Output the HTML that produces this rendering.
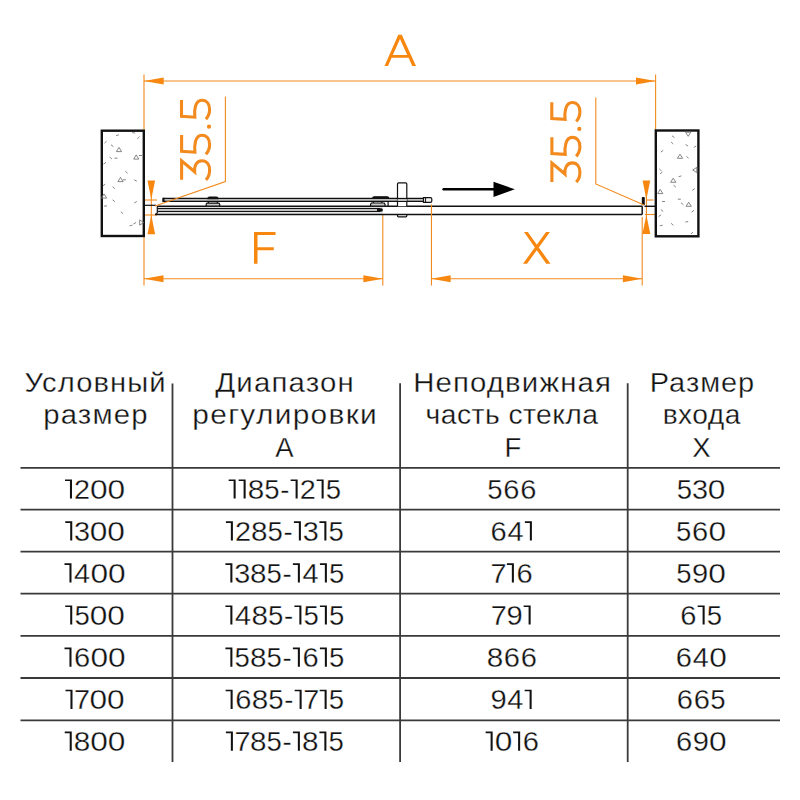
<!DOCTYPE html>
<html><head><meta charset="utf-8">
<style>
html,body{margin:0;padding:0;background:#fff;width:800px;height:800px;overflow:hidden}
svg{display:block}
.o{stroke:#F28A1E;fill:none;stroke-width:1.1}
.of{fill:#F7870F;stroke:none}
.ot{fill:#F28A1E;font-family:"Liberation Sans",sans-serif;font-size:46px}
.thin{stroke:#fff;stroke-width:0.9px}
.t{fill:#111;font-family:"Liberation Sans",sans-serif;font-size:27.5px;stroke:#fff;stroke-width:0.3px}
.one{fill:#111;stroke:none}
.k{stroke:#111;fill:none}
.h{stroke:#888;fill:none;stroke-width:0.9}
</style></head>
<body>
<svg width="800" height="800" viewBox="0 0 800 800">
<!-- ===== DIAGRAM ===== -->
<!-- dimension A -->
<line class="o" x1="144" y1="74.5" x2="144" y2="285.5"/>
<line class="o" x1="655.6" y1="74.5" x2="655.6" y2="131"/>
<line class="o" x1="144" y1="81" x2="655.6" y2="81"/>
<polygon class="of" points="144,81 163.7,77.5 163.7,84.5"/>
<polygon class="of" points="655.6,81 636,77.5 636,84.5"/>
<path class="of" fill-rule="evenodd" d="M384.5 66L398.25 34.75H401.75L416 66H412.25L408.55 57.75H391.6L388 66ZM392.85 55L400 38.9L407.2 55Z"/>
<!-- dimension F -->
<line class="o" x1="382.8" y1="214" x2="382.8" y2="285.5"/>
<line class="o" x1="144" y1="278.8" x2="382.8" y2="278.8"/>
<polygon class="of" points="144,278.8 163.5,275.3 163.5,282.3"/>
<polygon class="of" points="382.8,278.8 363.4,275.3 363.4,282.3"/>
<path class="of" d="M254 232H275.5V235H257.5V247.25H273.75V250.25H257.5V263.75H254Z"/>
<!-- dimension X -->
<line class="o" x1="642.2" y1="217" x2="642.2" y2="285.5"/>
<line class="o" x1="431.2" y1="278.8" x2="642.2" y2="278.8"/>
<polygon class="of" points="431.2,278.8 450.6,275.3 450.6,282.3"/>
<polygon class="of" points="642.2,278.8 622.9,275.3 622.9,282.3"/>
<path class="of" d="M524 232H527.75L550.5 263.75H546.25ZM546 232H550L527 263.75H523Z"/>

<!-- 35.5 left -->
<g fill="none" stroke="#F28A1E" stroke-width="3.1" stroke-linejoin="miter">
  <path d="M181.5 100V116.3L194.8 117.2C194.1 111 194.8 100.3 202 100.3C207 100.3 209.6 104.5 209.6 109.5C209.6 113.5 208.3 116.6 205.9 119.2"/>
  <path d="M181.6 135V151.3L194.9 152.2C194.2 146 194.9 135.2 202 135.2C207 135.2 209.6 139.4 209.6 144.4C209.6 148.4 208.3 151.6 205.9 154.2"/>
  <path d="M181.6 179.8V160.9L194.6 171.8C194 166.5 196.3 160.7 202 160.7C207 160.7 209.6 165 209.6 170C209.6 174.5 208.3 177.6 205.9 179.9"/>
  <circle cx="209" cy="126.7" r="2.1" fill="#F28A1E" stroke="none"/>
</g>
<!-- 35.5 right -->
<g transform="translate(370.3,2.2)" fill="none" stroke="#F28A1E" stroke-width="3.1" stroke-linejoin="miter">
  <path d="M181.5 100V116.3L194.8 117.2C194.1 111 194.8 100.3 202 100.3C207 100.3 209.6 104.5 209.6 109.5C209.6 113.5 208.3 116.6 205.9 119.2"/>
  <path d="M181.6 135V151.3L194.9 152.2C194.2 146 194.9 135.2 202 135.2C207 135.2 209.6 139.4 209.6 144.4C209.6 148.4 208.3 151.6 205.9 154.2"/>
  <path d="M181.6 179.8V160.9L194.6 171.8C194 166.5 196.3 160.7 202 160.7C207 160.7 209.6 165 209.6 170C209.6 174.5 208.3 177.6 205.9 179.9"/>
  <circle cx="209" cy="126.7" r="2.1" fill="#F28A1E" stroke="none"/>
</g>

<!-- small vertical dims left -->
<line class="o" x1="151.3" y1="181" x2="151.3" y2="234"/>
<polygon class="of" points="147.5,180.5 155.1,180.5 151.3,199.5"/>
<polygon class="of" points="147.5,234.3 155.1,234.3 151.3,215"/>
<line class="o" x1="145" y1="200" x2="157" y2="200"/>
<line class="o" x1="144" y1="215" x2="157" y2="215"/>
<!-- small vertical dims right -->
<line class="o" x1="646.4" y1="181" x2="646.4" y2="234"/>
<polygon class="of" points="642.6,180.5 650.2,180.5 646.4,199.5"/>
<polygon class="of" points="642.4,234 650.3,234 646.4,215"/>
<line class="o" x1="647" y1="200" x2="653.5" y2="200"/>
<line class="o" x1="645" y1="214.5" x2="656" y2="214.5"/>

<!-- walls -->
<rect x="101.8" y="130.7" width="42" height="105.3" fill="#fff" stroke="#111" stroke-width="2.4"/>
<rect x="655.8" y="130.5" width="42.6" height="105.8" fill="#fff" stroke="#111" stroke-width="2.4"/>
<path d="M116.1 135.6L118.9 134.8M132.2 132.5L135.2 133.1M137.4 138.7L139.6 136.7M104.4 143.2L106.6 141.2M111.0 144.8L113.4 146.6M119.0 147.4L121.6 151.6L116.4 151.6ZM136.2 154.9L138.8 159.1L133.7 159.1ZM139.0 155.5L142.0 155.5M109.6 157.0L111.9 159.0M114.5 158.2L117.5 158.2M103.5 164.1L106.0 162.4M125.4 171.3L127.6 173.2M120.5 177.4L123.1 181.6L117.9 181.6ZM123.0 179.8L126.0 179.8M134.2 179.8L136.8 181.2M102.8 185.9L105.2 184.1M112.6 186.7L114.9 188.7M104.0 193.9L106.6 198.1L101.4 198.1ZM112.6 199.8L114.9 201.7M134.2 203.0L136.8 201.5M104.0 206.0L107.0 206.0M120.9 211.8L123.1 213.7M129.6 225.9L132.4 225.1M133.5 224.0L136.0 222.5M143.8 222.5L139.7 225.1L139.7 219.9ZM688.2 136.3L685.6 132.2L690.9 132.2ZM672.0 135.8L674.5 137.6M671.1 142.0L673.3 144.0M685.5 144.5L688.0 146.0M693.8 147.6L696.2 145.9M660.8 152.1L663.2 150.4M680.0 154.2L682.6 158.3L677.4 158.3ZM686.4 156.3L688.6 158.2M659.4 169.0L661.6 171.0M660.1 174.0L662.4 172.0M692.7 170.0L696.8 167.4L696.8 172.6ZM678.6 176.7L681.4 175.9M673.2 178.2L675.9 182.3L670.6 182.3ZM673.6 185.2L675.9 187.2M692.3 190.4L694.7 188.6M660.2 189.4L662.8 193.6L657.6 193.6ZM662.0 201.5L665.0 201.5M677.8 199.2L680.8 199.2M681.1 202.8L683.4 204.7M688.7 202.2L691.3 206.3L686.1 206.3ZM660.8 209.6L663.2 211.4M691.5 212.1L694.0 210.4M658.5 216.6L661.0 214.9M685.3 222.0L688.2 221.5M671.1 223.3L673.3 225.3M659.8 225.8L662.7 225.2M690.9 234.0L693.1 232.0" fill="none" stroke="#707070" stroke-width="0.85"/>


<!-- glass -->
<g class="k" stroke-width="1.2">
  <!-- fixed panel fills -->
  <rect x="157.3" y="206.25" width="225.4" height="2.25" fill="#dedede" stroke="none"/>
  <rect x="157.3" y="208.5" width="225.4" height="3" fill="#c2c2c2" stroke="none"/>
  <rect x="157.3" y="211.5" width="225.4" height="2.9" fill="#e6e6e6" stroke="none"/>
  <line x1="157.3" y1="208.5" x2="380" y2="208.5"/>
  <line x1="157.3" y1="211.5" x2="380" y2="211.5"/>
  <path d="M377 208.3H381.2Q382.9 208.3 382.9 210V210Q382.9 211.8 381.2 211.8H377Z" fill="#111" stroke="none"/>
  <!-- main long glass -->
  <line x1="157.3" y1="206.3" x2="642.2" y2="206.3" stroke-width="1.45"/>
  <line x1="155" y1="214.5" x2="642.2" y2="214.5" stroke-width="1.45"/>
  <path d="M157.3 206.25V213L155.5 214.4"/>
  <line x1="642.2" y1="206.3" x2="642.2" y2="214.5" stroke-width="1.45"/>
  <!-- upper bar -->
  <rect x="163" y="198.45" width="260.5" height="2.95" fill="#bdbdbd" stroke="none"/>
  <line x1="163" y1="198.45" x2="423.5" y2="198.45"/>
  <line x1="163" y1="201.4" x2="423.5" y2="201.4"/>
  <rect x="162.3" y="197.8" width="2.2" height="4.2" fill="#111" stroke="none"/>
  <!-- end cap of upper bar -->
  <path d="M423.5 197.6H430.3Q431.8 197.6 431.8 199V201Q431.8 202.4 430.3 202.4H423.5Z" fill="#f4f4f4"/>
  <line x1="425.6" y1="197.8" x2="425.6" y2="202.3" stroke-width="1"/>
  <!-- stubs -->
  <line x1="144" y1="205.3" x2="156" y2="205.3"/>
  <line x1="644.5" y1="206.3" x2="656" y2="206.3" stroke-width="1.45"/>
  <rect x="641.8" y="197" width="3" height="8.2" rx="0.8" fill="#111" stroke="none"/>
  <!-- roller 1 -->
  <path d="M207.9 198.6Q207.9 197 209.5 197H216.4Q218 197 218 198.6Z" fill="#111"/>
  <line x1="208.4" y1="201.4" x2="208.4" y2="203.2"/>
  <line x1="217.3" y1="201.4" x2="217.3" y2="203.2"/>
  <path d="M206.2 206.2V204.2L207 203.1H218.9L219.7 204.2V206.2Z" fill="#c8c8c8"/>
  <!-- roller 2 -->
  <path d="M372.6 198.5Q372.6 196.8 374.2 196.8H387.2Q388.8 196.8 388.8 198.5Z" fill="#111"/>
  <line x1="373.3" y1="201.4" x2="373.3" y2="203.2"/>
  <line x1="381.8" y1="201.4" x2="381.8" y2="203.2"/>
  <line x1="388.1" y1="201.4" x2="388.1" y2="206.2"/>
  <path d="M370.6 206.2V204.1L371.4 203H384.2L385 204.1V206.2Z" fill="#c8c8c8"/>
  <!-- handle -->
  <path d="M397.5 206.2V184Q397.5 182.8 398.7 182.8H405.6Q406.8 182.8 406.8 184V206.2" fill="#fff"/>
  <line x1="397.5" y1="198.45" x2="406.8" y2="198.45"/>
  <line x1="397.5" y1="201.4" x2="406.8" y2="201.4"/>
  <rect x="397.5" y="199" width="9.3" height="2" fill="#bdbdbd" stroke="none"/>
  <path d="M397.5 214.4V215.8Q397.5 216.8 398.5 216.8H405.8Q406.8 216.8 406.8 215.8V214.4" fill="none"/>
</g>
<line class="o" x1="431.45" y1="204.5" x2="431.45" y2="285.5"/>
<polyline class="o" points="225.4,96.5 225.4,181.5 155,206"/>
<polyline class="o" points="595.8,97.5 595.8,184 644,205"/>
<!-- arrow -->
<line x1="443.6" y1="189.3" x2="495" y2="189.3" stroke="#000" stroke-width="2.4" stroke-linecap="round"/>
<polygon points="493.5,181.8 514.9,189.3 493.5,196.9" fill="#000"/>
<!-- ===== TABLE ===== -->

<g stroke="#3a3a3a" stroke-width="1.8">
  <line x1="20.5" y1="467.8" x2="780" y2="467.8"/>
  <line x1="20.5" y1="509.7" x2="780" y2="509.7"/>
  <line x1="20.5" y1="551.6" x2="780" y2="551.6"/>
  <line x1="20.5" y1="593.7" x2="780" y2="593.7"/>
  <line x1="20.5" y1="635.8" x2="780" y2="635.8"/>
  <line x1="20.5" y1="678" x2="780" y2="678"/>
  <line x1="20.5" y1="720.4" x2="780" y2="720.4"/>
  <line x1="172.5" y1="383.5" x2="172.5" y2="762"/>
  <line x1="400.1" y1="383.3" x2="400.1" y2="762"/>
  <line x1="627.7" y1="383.3" x2="627.7" y2="762"/>
</g>
<g class="t">
<text transform="translate(95.00,392) scale(1.0610,1)" x="0.50" y="0" text-anchor="middle" letter-spacing="1.010">Условный</text>
<text transform="translate(95.40,423.5) scale(1.0653,1)" x="0.55" y="0" text-anchor="middle" letter-spacing="1.103">размер</text>
<text transform="translate(284.50,392) scale(1.0686,1)" x="0.55" y="0" text-anchor="middle" letter-spacing="1.110">Диапазон</text>
<text transform="translate(284.50,423.5) scale(1.0855,1)" x="0.61" y="0" text-anchor="middle" letter-spacing="1.221">регулировки</text>
<text x="284.5" y="456.8" text-anchor="middle">A</text>
<text transform="translate(512.00,392) scale(1.0673,1)" x="0.54" y="0" text-anchor="middle" letter-spacing="1.078">Неподвижная</text>
<text transform="translate(511.80,423.5) scale(1.0293,1)" x="0.21" y="0" text-anchor="middle" letter-spacing="0.420">часть стекла</text>
<text x="512.8" y="457" text-anchor="middle">F</text>
<text transform="translate(702.00,392) scale(1.0538,1)" x="0.46" y="0" text-anchor="middle" letter-spacing="0.930">Размер</text>
<text transform="translate(701.50,423.5) scale(1.0240,1)" x="0.21" y="0" text-anchor="middle" letter-spacing="0.427">входа</text>
<text x="701.5" y="456.8" text-anchor="middle">X</text>
</g>
<g class="t">
<text transform="translate(82.10,498.6) scale(1.05,1)" text-anchor="middle">2</text><text transform="translate(98.85,498.6) scale(1.15,1)" text-anchor="middle">0</text><text transform="translate(116.35,498.6) scale(1.15,1)" text-anchor="middle">0</text><path d="M69.95 479.40H72.00V498.60H69.95ZM65.00 479.40H72.00V481.05H65.00Z" class="one"/>
<text transform="translate(256.00,498.6) scale(1.08,1)" text-anchor="middle">8</text><text transform="translate(272.00,498.6) scale(1.0,1)" text-anchor="middle">5</text><text transform="translate(284.75,498.6) scale(1.0,1)" text-anchor="middle">-</text><text transform="translate(307.75,498.6) scale(1.05,1)" text-anchor="middle">2</text><text transform="translate(333.50,498.6) scale(1.0,1)" text-anchor="middle">5</text><path d="M233.60 479.40H235.65V498.60H233.60ZM228.65 479.40H235.65V481.05H228.65ZM243.60 479.40H245.65V498.60H243.60ZM238.65 479.40H245.65V481.05H238.65ZM295.60 479.40H297.65V498.60H295.60ZM290.65 479.40H297.65V481.05H290.65ZM321.60 479.40H323.65V498.60H321.60ZM316.65 479.40H323.65V481.05H316.65Z" class="one"/>
<text transform="translate(495.00,498.6) scale(1.0,1)" text-anchor="middle">5</text><text transform="translate(511.25,498.6) scale(1.06,1)" text-anchor="middle">6</text><text transform="translate(528.25,498.6) scale(1.06,1)" text-anchor="middle">6</text>
<text transform="translate(684.50,498.6) scale(1.0,1)" text-anchor="middle">5</text><text transform="translate(700.00,498.6) scale(1.05,1)" text-anchor="middle">3</text><text transform="translate(716.50,498.6) scale(1.15,1)" text-anchor="middle">0</text>
<text transform="translate(82.10,540.5) scale(1.05,1)" text-anchor="middle">3</text><text transform="translate(98.60,540.5) scale(1.15,1)" text-anchor="middle">0</text><text transform="translate(116.10,540.5) scale(1.15,1)" text-anchor="middle">0</text><path d="M70.20 521.30H72.25V540.50H70.20ZM65.25 521.30H72.25V522.95H65.25Z" class="one"/>
<text transform="translate(243.00,540.5) scale(1.05,1)" text-anchor="middle">2</text><text transform="translate(259.25,540.5) scale(1.08,1)" text-anchor="middle">8</text><text transform="translate(275.25,540.5) scale(1.0,1)" text-anchor="middle">5</text><text transform="translate(288.00,540.5) scale(1.0,1)" text-anchor="middle">-</text><text transform="translate(310.75,540.5) scale(1.05,1)" text-anchor="middle">3</text><text transform="translate(336.25,540.5) scale(1.0,1)" text-anchor="middle">5</text><path d="M230.85 521.30H232.90V540.50H230.85ZM225.90 521.30H232.90V522.95H225.90ZM298.85 521.30H300.90V540.50H298.85ZM293.90 521.30H300.90V522.95H293.90ZM324.35 521.30H326.40V540.50H324.35ZM319.40 521.30H326.40V522.95H319.40Z" class="one"/>
<text transform="translate(498.50,540.5) scale(1.06,1)" text-anchor="middle">6</text><text transform="translate(515.50,540.5) scale(1.05,1)" text-anchor="middle">4</text><path d="M529.85 521.30H531.90V540.50H529.85ZM524.90 521.30H531.90V522.95H524.90Z" class="one"/>
<text transform="translate(683.75,540.5) scale(1.0,1)" text-anchor="middle">5</text><text transform="translate(700.00,540.5) scale(1.06,1)" text-anchor="middle">6</text><text transform="translate(717.25,540.5) scale(1.15,1)" text-anchor="middle">0</text>
<text transform="translate(82.10,582.5) scale(1.05,1)" text-anchor="middle">4</text><text transform="translate(99.35,582.5) scale(1.15,1)" text-anchor="middle">0</text><text transform="translate(116.85,582.5) scale(1.15,1)" text-anchor="middle">0</text><path d="M69.45 563.30H71.50V582.50H69.45ZM64.50 563.30H71.50V564.95H64.50Z" class="one"/>
<text transform="translate(242.25,582.5) scale(1.05,1)" text-anchor="middle">3</text><text transform="translate(258.25,582.5) scale(1.08,1)" text-anchor="middle">8</text><text transform="translate(274.25,582.5) scale(1.0,1)" text-anchor="middle">5</text><text transform="translate(287.00,582.5) scale(1.0,1)" text-anchor="middle">-</text><text transform="translate(310.50,582.5) scale(1.05,1)" text-anchor="middle">4</text><text transform="translate(336.75,582.5) scale(1.0,1)" text-anchor="middle">5</text><path d="M230.35 563.30H232.40V582.50H230.35ZM225.40 563.30H232.40V564.95H225.40ZM297.85 563.30H299.90V582.50H297.85ZM292.90 563.30H299.90V564.95H292.90ZM324.85 563.30H326.90V582.50H324.85ZM319.90 563.30H326.90V564.95H319.90Z" class="one"/>
<text transform="translate(498.50,582.5) scale(1.05,1)" text-anchor="middle">7</text><text transform="translate(524.50,582.5) scale(1.06,1)" text-anchor="middle">6</text><path d="M511.85 563.30H513.90V582.50H511.85ZM506.90 563.30H513.90V564.95H506.90Z" class="one"/>
<text transform="translate(684.00,582.5) scale(1.0,1)" text-anchor="middle">5</text><text transform="translate(700.00,582.5) scale(1.06,1)" text-anchor="middle">9</text><text transform="translate(717.00,582.5) scale(1.15,1)" text-anchor="middle">0</text>
<text transform="translate(82.10,624.6) scale(1.0,1)" text-anchor="middle">5</text><text transform="translate(98.60,624.6) scale(1.15,1)" text-anchor="middle">0</text><text transform="translate(116.10,624.6) scale(1.15,1)" text-anchor="middle">0</text><path d="M70.20 605.40H72.25V624.60H70.20ZM65.25 605.40H72.25V607.05H65.25Z" class="one"/>
<text transform="translate(243.00,624.6) scale(1.05,1)" text-anchor="middle">4</text><text transform="translate(259.75,624.6) scale(1.08,1)" text-anchor="middle">8</text><text transform="translate(275.75,624.6) scale(1.0,1)" text-anchor="middle">5</text><text transform="translate(288.50,624.6) scale(1.0,1)" text-anchor="middle">-</text><text transform="translate(311.25,624.6) scale(1.0,1)" text-anchor="middle">5</text><text transform="translate(336.75,624.6) scale(1.0,1)" text-anchor="middle">5</text><path d="M230.35 605.40H232.40V624.60H230.35ZM225.40 605.40H232.40V607.05H225.40ZM299.35 605.40H301.40V624.60H299.35ZM294.40 605.40H301.40V607.05H294.40ZM324.85 605.40H326.90V624.60H324.85ZM319.90 605.40H326.90V607.05H319.90Z" class="one"/>
<text transform="translate(498.75,624.6) scale(1.05,1)" text-anchor="middle">7</text><text transform="translate(514.50,624.6) scale(1.06,1)" text-anchor="middle">9</text><path d="M528.60 605.40H530.65V624.60H528.60ZM523.65 605.40H530.65V607.05H523.65Z" class="one"/>
<text transform="translate(688.25,624.6) scale(1.06,1)" text-anchor="middle">6</text><text transform="translate(714.50,624.6) scale(1.0,1)" text-anchor="middle">5</text><path d="M702.60 605.40H704.65V624.60H702.60ZM697.65 605.40H704.65V607.05H697.65Z" class="one"/>
<text transform="translate(82.10,666.7) scale(1.06,1)" text-anchor="middle">6</text><text transform="translate(99.35,666.7) scale(1.15,1)" text-anchor="middle">0</text><text transform="translate(116.85,666.7) scale(1.15,1)" text-anchor="middle">0</text><path d="M69.45 647.50H71.50V666.70H69.45ZM64.50 647.50H71.50V649.15H64.50Z" class="one"/>
<text transform="translate(242.25,666.7) scale(1.0,1)" text-anchor="middle">5</text><text transform="translate(258.25,666.7) scale(1.08,1)" text-anchor="middle">8</text><text transform="translate(274.25,666.7) scale(1.0,1)" text-anchor="middle">5</text><text transform="translate(287.00,666.7) scale(1.0,1)" text-anchor="middle">-</text><text transform="translate(310.50,666.7) scale(1.06,1)" text-anchor="middle">6</text><text transform="translate(336.75,666.7) scale(1.0,1)" text-anchor="middle">5</text><path d="M230.35 647.50H232.40V666.70H230.35ZM225.40 647.50H232.40V649.15H225.40ZM297.85 647.50H299.90V666.70H297.85ZM292.90 647.50H299.90V649.15H292.90ZM324.85 647.50H326.90V666.70H324.85ZM319.90 647.50H326.90V649.15H319.90Z" class="one"/>
<text transform="translate(495.00,666.7) scale(1.08,1)" text-anchor="middle">8</text><text transform="translate(511.75,666.7) scale(1.06,1)" text-anchor="middle">6</text><text transform="translate(528.75,666.7) scale(1.06,1)" text-anchor="middle">6</text>
<text transform="translate(683.75,666.7) scale(1.06,1)" text-anchor="middle">6</text><text transform="translate(700.75,666.7) scale(1.05,1)" text-anchor="middle">4</text><text transform="translate(718.00,666.7) scale(1.15,1)" text-anchor="middle">0</text>
<text transform="translate(82.10,708.9) scale(1.05,1)" text-anchor="middle">7</text><text transform="translate(98.35,708.9) scale(1.15,1)" text-anchor="middle">0</text><text transform="translate(115.85,708.9) scale(1.15,1)" text-anchor="middle">0</text><path d="M70.45 689.70H72.50V708.90H70.45ZM65.50 689.70H72.50V691.35H65.50Z" class="one"/>
<text transform="translate(243.25,708.9) scale(1.06,1)" text-anchor="middle">6</text><text transform="translate(260.00,708.9) scale(1.08,1)" text-anchor="middle">8</text><text transform="translate(276.00,708.9) scale(1.0,1)" text-anchor="middle">5</text><text transform="translate(288.75,708.9) scale(1.0,1)" text-anchor="middle">-</text><text transform="translate(311.25,708.9) scale(1.05,1)" text-anchor="middle">7</text><text transform="translate(336.50,708.9) scale(1.0,1)" text-anchor="middle">5</text><path d="M230.60 689.70H232.65V708.90H230.60ZM225.65 689.70H232.65V691.35H225.65ZM299.60 689.70H301.65V708.90H299.60ZM294.65 689.70H301.65V691.35H294.65ZM324.60 689.70H326.65V708.90H324.60ZM319.65 689.70H326.65V691.35H319.65Z" class="one"/>
<text transform="translate(498.50,708.9) scale(1.06,1)" text-anchor="middle">9</text><text transform="translate(515.25,708.9) scale(1.05,1)" text-anchor="middle">4</text><path d="M529.60 689.70H531.65V708.90H529.60ZM524.65 689.70H531.65V691.35H524.65Z" class="one"/>
<text transform="translate(684.75,708.9) scale(1.06,1)" text-anchor="middle">6</text><text transform="translate(701.75,708.9) scale(1.06,1)" text-anchor="middle">6</text><text transform="translate(718.00,708.9) scale(1.0,1)" text-anchor="middle">5</text>
<text transform="translate(82.10,750.8) scale(1.08,1)" text-anchor="middle">8</text><text transform="translate(99.10,750.8) scale(1.15,1)" text-anchor="middle">0</text><text transform="translate(116.60,750.8) scale(1.15,1)" text-anchor="middle">0</text><path d="M69.70 731.60H71.75V750.80H69.70ZM64.75 731.60H71.75V733.25H64.75Z" class="one"/>
<text transform="translate(242.50,750.8) scale(1.05,1)" text-anchor="middle">7</text><text transform="translate(258.25,750.8) scale(1.08,1)" text-anchor="middle">8</text><text transform="translate(274.25,750.8) scale(1.0,1)" text-anchor="middle">5</text><text transform="translate(287.00,750.8) scale(1.0,1)" text-anchor="middle">-</text><text transform="translate(310.25,750.8) scale(1.08,1)" text-anchor="middle">8</text><text transform="translate(336.25,750.8) scale(1.0,1)" text-anchor="middle">5</text><path d="M230.85 731.60H232.90V750.80H230.85ZM225.90 731.60H232.90V733.25H225.90ZM297.85 731.60H299.90V750.80H297.85ZM292.90 731.60H299.90V733.25H292.90ZM324.35 731.60H326.40V750.80H324.35ZM319.40 731.60H326.40V733.25H319.40Z" class="one"/>
<text transform="translate(503.50,750.8) scale(1.15,1)" text-anchor="middle">0</text><text transform="translate(530.75,750.8) scale(1.06,1)" text-anchor="middle">6</text><path d="M490.60 731.60H492.65V750.80H490.60ZM485.65 731.60H492.65V733.25H485.65ZM518.10 731.60H520.15V750.80H518.10ZM513.15 731.60H520.15V733.25H513.15Z" class="one"/>
<text transform="translate(684.00,750.8) scale(1.06,1)" text-anchor="middle">6</text><text transform="translate(700.75,750.8) scale(1.06,1)" text-anchor="middle">9</text><text transform="translate(717.75,750.8) scale(1.15,1)" text-anchor="middle">0</text>
</g>
</svg>
</body></html>
